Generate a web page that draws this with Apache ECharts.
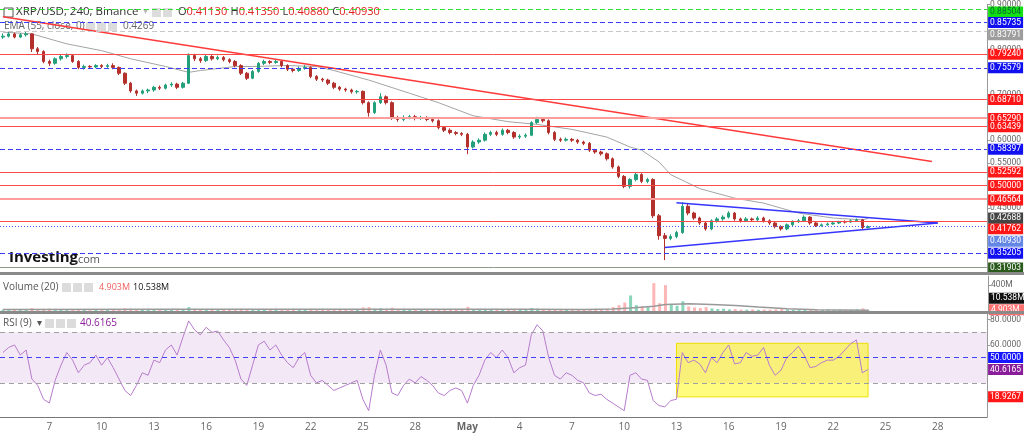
<!DOCTYPE html>
<html>
<head>
<meta charset="utf-8">
<script src="https://cdn.jsdelivr.net/npm/echarts@6/dist/echarts.min.js"></script>
<style>
  html, body { margin: 0; padding: 0; background: #fff; }
  #chart { width: 1024px; height: 433px; }
</style>
</head>
<body>
<div id="chart"></div>
<script>
// 8h slots from Apr 4 08:00, 170 slots fill the plot width
const slotStart = Date.UTC(2022, 3, 4, 8);
const slotCount = 170;
const categories = [];
for (let k = 0; k < slotCount; k++) {
  const d = new Date(slotStart + k * 8 * 3600e3);
  categories.push((d.getUTCMonth() + 1) + '/' + d.getUTCDate() + ' ' + d.getUTCHours() + 'h');
}

// x tick labels (every 3 days at 00:00)
const dayLabels = ['7', '10', '13', '16', '19', '22', '25', '28', 'May', '4', '7', '10', '13', '16', '19', '22', '25', '28'];
const dayLabelSlots = [8, 17, 26, 35, 44, 53, 62, 71, 80, 89, 98, 107, 116, 125, 134, 143, 152, 161];

// candles: [open, close, low, high]
const candles = [
  [0.828,0.830,0.824,0.836],[0.830,0.835,0.827,0.839],[0.835,0.828,0.825,0.838],[0.828,0.833,0.826,0.837],[0.833,0.835,0.829,0.840],
  [0.835,0.802,0.795,0.836],[0.802,0.796,0.790,0.806],[0.796,0.774,0.770,0.799],[0.774,0.770,0.764,0.778],[0.770,0.780,0.767,0.783],
  [0.780,0.785,0.776,0.789],[0.785,0.787,0.781,0.792],[0.787,0.774,0.771,0.790],[0.774,0.761,0.757,0.777],[0.761,0.763,0.756,0.767],
  [0.763,0.762,0.758,0.766],[0.762,0.765,0.759,0.768],[0.765,0.763,0.759,0.768],[0.763,0.765,0.760,0.769],[0.765,0.761,0.757,0.770],
  [0.761,0.748,0.744,0.763],[0.748,0.726,0.722,0.750],[0.726,0.709,0.705,0.729],[0.709,0.704,0.698,0.712],[0.704,0.709,0.701,0.712],
  [0.709,0.711,0.704,0.714],[0.711,0.717,0.707,0.720],[0.717,0.715,0.711,0.721],[0.715,0.722,0.712,0.725],[0.722,0.724,0.718,0.728],
  [0.724,0.717,0.713,0.727],[0.717,0.726,0.714,0.729],[0.726,0.787,0.724,0.792],[0.787,0.780,0.775,0.791],[0.780,0.776,0.771,0.784],
  [0.776,0.785,0.773,0.790],[0.785,0.780,0.776,0.788],[0.780,0.783,0.777,0.787],[0.783,0.778,0.774,0.786],[0.778,0.774,0.770,0.781],
  [0.774,0.765,0.761,0.777],[0.765,0.748,0.744,0.768],[0.748,0.737,0.733,0.751],[0.737,0.752,0.735,0.755],[0.752,0.770,0.749,0.773],
  [0.770,0.774,0.766,0.778],[0.774,0.772,0.768,0.777],[0.772,0.774,0.769,0.779],[0.774,0.765,0.761,0.777],[0.765,0.757,0.753,0.768],
  [0.757,0.754,0.750,0.760],[0.754,0.759,0.751,0.763],[0.759,0.761,0.756,0.766],[0.761,0.741,0.737,0.763],[0.741,0.735,0.731,0.744],
  [0.735,0.733,0.729,0.738],[0.733,0.726,0.722,0.736],[0.726,0.717,0.713,0.729],[0.717,0.713,0.709,0.720],[0.713,0.711,0.707,0.716],
  [0.711,0.707,0.703,0.714],[0.707,0.708,0.703,0.711],[0.708,0.683,0.679,0.710],[0.683,0.661,0.652,0.686],[0.661,0.683,0.658,0.686],
  [0.683,0.696,0.680,0.704],[0.696,0.683,0.679,0.699],[0.683,0.650,0.645,0.686],[0.650,0.646,0.641,0.654],[0.646,0.650,0.642,0.655],
  [0.650,0.652,0.646,0.656],[0.652,0.648,0.644,0.656],[0.648,0.650,0.645,0.654],[0.650,0.646,0.642,0.653],[0.646,0.643,0.639,0.649],
  [0.643,0.628,0.624,0.646],[0.628,0.622,0.618,0.631],[0.622,0.617,0.613,0.626],[0.617,0.615,0.611,0.620],[0.615,0.613,0.609,0.618],
  [0.613,0.585,0.569,0.616],[0.585,0.596,0.582,0.600],[0.596,0.600,0.592,0.604],[0.600,0.613,0.597,0.617],[0.613,0.617,0.609,0.621],
  [0.617,0.613,0.609,0.621],[0.613,0.622,0.610,0.626],[0.622,0.617,0.613,0.625],[0.617,0.607,0.603,0.620],[0.607,0.609,0.603,0.613],
  [0.609,0.611,0.605,0.615],[0.611,0.639,0.609,0.642],[0.639,0.646,0.636,0.652],[0.646,0.643,0.639,0.650],[0.643,0.617,0.613,0.646],
  [0.617,0.602,0.598,0.620],[0.602,0.600,0.596,0.606],[0.600,0.602,0.597,0.606],[0.602,0.600,0.596,0.605],[0.600,0.596,0.592,0.603],
  [0.596,0.593,0.589,0.599],[0.593,0.578,0.574,0.596],[0.578,0.574,0.570,0.581],[0.574,0.570,0.566,0.577],[0.570,0.559,0.555,0.573],
  [0.559,0.541,0.537,0.562],[0.541,0.520,0.516,0.544],[0.520,0.498,0.494,0.523],[0.498,0.513,0.493,0.516],[0.513,0.524,0.509,0.528],
  [0.524,0.509,0.505,0.527],[0.509,0.513,0.505,0.517],[0.513,0.433,0.428,0.516],[0.433,0.389,0.380,0.437],[0.389,0.383,0.335,0.395],
  [0.383,0.387,0.379,0.392],[0.387,0.396,0.383,0.400],[0.396,0.454,0.393,0.463],[0.454,0.439,0.434,0.460],[0.439,0.428,0.424,0.442],
  [0.428,0.417,0.413,0.431],[0.417,0.404,0.400,0.420],[0.404,0.422,0.401,0.425],[0.422,0.426,0.418,0.430],[0.426,0.430,0.422,0.434],
  [0.430,0.439,0.427,0.443],[0.439,0.426,0.422,0.441],[0.426,0.422,0.418,0.429],[0.422,0.426,0.419,0.430],[0.426,0.424,0.420,0.429],
  [0.424,0.428,0.421,0.432],[0.428,0.422,0.418,0.431],[0.422,0.417,0.413,0.425],[0.417,0.409,0.405,0.420],[0.409,0.404,0.400,0.412],
  [0.404,0.413,0.401,0.416],[0.413,0.420,0.410,0.423],[0.420,0.422,0.417,0.426],[0.422,0.430,0.419,0.434],[0.430,0.417,0.413,0.432],
  [0.417,0.411,0.408,0.420],[0.411,0.413,0.409,0.416],[0.413,0.415,0.411,0.418],[0.415,0.417,0.413,0.420],[0.417,0.420,0.415,0.422],
  [0.420,0.419,0.416,0.423],[0.419,0.422,0.417,0.425],[0.422,0.424,0.420,0.427],[0.424,0.407,0.403,0.426],[0.407,0.409,0.405,0.412]
];

// EMA(55) read at a few slots
const emaSlots  = [0, 5, 11, 17, 22, 28, 32, 34, 40, 43, 49, 54, 57, 63, 70, 75, 81, 87, 92, 98, 104, 108, 110, 113, 115, 120, 126, 131, 137, 143, 148, 149];
const emaValues = [0.839, 0.835, 0.813, 0.798, 0.780, 0.763, 0.750, 0.754, 0.763, 0.763, 0.765, 0.763, 0.754, 0.733, 0.704, 0.683, 0.654, 0.641, 0.635, 0.624, 0.607, 0.585, 0.578, 0.552, 0.524, 0.493, 0.472, 0.461, 0.439, 0.428, 0.424, 0.4269];

// trend lines: [slot, price]
const downTrend = [[0, 0.873], [160, 0.553]];
const triUpper = [[116, 0.462], [161, 0.417]];
const triLower = [[114, 0.363], [161, 0.417]];

// horizontal levels on the price panel
const levelValues = [0.88504, 0.85735, 0.83791, 0.79240, 0.75579, 0.68710, 0.65290, 0.63439, 0.58397, 0.52592, 0.50000, 0.46564, 0.41762, 0.40930, 0.35205, 0.31903];
const levelKinds  = ['green', 'blue', 'gray', 'red', 'blue', 'red', 'pink', 'red', 'blue', 'red', 'red', 'pink', 'red', 'last', 'blue', 'olive'];
const emaLast = 0.42688;

// volume (millions)
const volumes = [
  20,18,22,15,20,45,30,25,35,20, 18,15,20,22,15,12,18,15,20,25, 30,40,35,28,20,18,15,22,18,20,
  15,25,60,30,20,18,15,20,18,22, 28,35,30,25,20,18,15,18,20,22, 15,18,20,35,28,20,22,25,18,20,
  15,18,55,60,35,40,30,50,22,18, 15,18,15,20,18,20,25,22,18,20, 65,30,25,22,20,18,22,18,20,18,
  20,45,35,25,30,22,18,20,18,22, 20,30,25,28,35,60,90,130,240,90, 70,60,430,120,400,110,80,150,70,55,
  45,60,40,30,35,25,30,22,20,25, 18,22,20,25,30,25,20,18,22,20, 18,15,18,15,20,15,18,25,40,5
];
const volMaSlots  = [0, 30, 60, 90, 100, 105, 108, 112, 114, 118, 122, 126, 130, 135, 140, 149];
const volMaValues = [25, 26, 27, 26, 25, 30, 45, 75, 100, 110, 100, 85, 60, 35, 20, 10.538];
const volLast = 4.903, volMaLast = 10.538;

// RSI(9)
const rsi = [
  54,58,60,52,56,33,28,17,14,32, 44,54,48,38,44,46,52,44,50,42, 33,24,20,28,38,36,48,46,56,60,
  52,66,79,72,68,74,70,71,64,58, 48,33,28,44,60,63,56,60,52,46, 42,50,54,36,30,32,28,24,26,28,
  30,32,17,8,36,56,44,22,20,28, 33,30,35,32,28,22,20,24,26,24, 14,28,36,48,54,50,56,50,38,42,
  44,68,76,71,50,36,33,38,36,32, 30,22,20,21,17,14,11,8,36,38, 33,32,16,12,11,16,17,54,46,48,
  45,38,50,46,54,60,45,46,54,51, 52,58,44,36,40,50,54,59,52,42, 43,46,48,48,51,56,61,64,38,40.6165
];
const rsiBox = [[116, 61.3], [149, 18.9267]];

const lineColors = { green: '#2fe02f', blue: '#3d3dff', gray: '#c8c8c8', red: '#ff4a4a', pink: '#ff9c9c', last: '#4a5cff', olive: '#8f9c86' };
const labelBg = { green: '#12e012', blue: '#1010f0', gray: '#9d9d9d', red: '#ff1616', pink: '#ff1616', last: '#6487e6', olive: '#2a5a1c' };
const labelShift = { 0.88504: 3, 0.83791: 3, 0.65290: 1, 0.41762: 7, 0.40930: 15, 0.46564: 1, 0.31903: 1 };
const noLine = { color: 'rgba(0,0,0,0)', width: 0 };

function sideLabel(text, bg, fg, dy) {
  return {
    show: true, position: 'end', distance: 1, formatter: text,
    backgroundColor: bg, color: fg, fontSize: 8.5, fontFamily: 'Roboto',
    padding: [1, 1, 1, 2], width: 32, offset: [0, dy || 0]
  };
}

const levelLines = levelValues.map((v, i) => {
  const kind = levelKinds[i];
  const dashed = kind === 'blue' || kind === 'green' || kind === 'gray';
  return {
    yAxis: v,
    lineStyle: {
      color: lineColors[kind],
      width: kind === 'pink' ? 2 : 1,
      type: kind === 'last' ? [1, 2] : (dashed ? [5, 3] : 'solid')
    },
    label: sideLabel(v.toFixed(5), labelBg[kind], kind === 'green' ? '#063' : '#fff', labelShift[v])
  };
});
levelLines.push({ yAxis: emaLast, lineStyle: noLine, label: sideLabel(emaLast.toFixed(5), '#444', '#fff', 1) });

const chart = echarts.init(document.getElementById('chart'));
const hiddenX = { type: 'category', data: categories, boundaryGap: true, show: false };
const grids = [
  { left: 0, right: 36, top: 0, height: 272 },
  { left: 0, right: 36, top: 276, height: 35 },
  { left: 0, right: 36, top: 314, height: 103 }
];
const rightAxisBase = {
  position: 'right', splitLine: { show: false },
  axisLine: { show: true, lineStyle: { color: '#999' } },
  axisTick: { show: true, length: 3, lineStyle: { color: '#999' } },
  axisLabel: { color: '#666', fontSize: 8.5, fontFamily: 'Roboto', margin: 3 }
};
const boxIcon = (x, y) => ({ type: 'rect', shape: { x: x, y: y, width: 9, height: 9 }, style: { fill: '#dcdcdc' } });
const uiFont = 'Open Sans';

chart.setOption({
  animation: false,
  grid: grids,
  xAxis: [
    Object.assign({ gridIndex: 0 }, hiddenX),
    Object.assign({ gridIndex: 1 }, hiddenX),
    {
      gridIndex: 2, type: 'category', data: categories, boundaryGap: true,
      axisLine: { lineStyle: { color: '#777' } },
      axisTick: { interval: (i) => dayLabelSlots.includes(i), alignWithLabel: true, length: 4, lineStyle: { color: '#777' } },
      axisLabel: {
        interval: (i) => dayLabelSlots.includes(i),
        formatter: (v, i) => {
          const t = dayLabels[dayLabelSlots.indexOf(i)];
          return t === 'May' ? '{b|May}' : t;
        },
        color: '#666', fontSize: 10, fontFamily: uiFont, margin: 5,
        rich: { b: { fontWeight: 'bold', color: '#666', fontSize: 10, fontFamily: uiFont } }
      }
    }
  ],
  yAxis: [
    Object.assign({}, rightAxisBase, {
      gridIndex: 0, min: 0.3087, max: 0.90,
      axisLabel: Object.assign({}, rightAxisBase.axisLabel, { customValues: [0.45, 0.55, 0.60, 0.70, 0.80, 0.90], formatter: (v) => v.toFixed(5) }),
      axisTick: Object.assign({}, rightAxisBase.axisTick, { customValues: [0.45, 0.55, 0.60, 0.70, 0.80, 0.90] })
    }),
    Object.assign({}, rightAxisBase, {
      gridIndex: 1, min: 0, max: 540,
      axisLabel: Object.assign({}, rightAxisBase.axisLabel, { customValues: [400], formatter: '{value}M' }),
      axisTick: Object.assign({}, rightAxisBase.axisTick, { customValues: [400] })
    }),
    Object.assign({}, rightAxisBase, {
      gridIndex: 2, min: 3, max: 84.5,
      axisLabel: Object.assign({}, rightAxisBase.axisLabel, { customValues: [60, 80], formatter: (v) => v.toFixed(4) }),
      axisTick: Object.assign({}, rightAxisBase.axisTick, { customValues: [60, 80] })
    })
  ],
  series: [
    {
      type: 'candlestick', xAxisIndex: 0, yAxisIndex: 0, data: candles, barWidth: 3,
      itemStyle: { color: '#23a07b', color0: '#b3302c', borderColor: '#23a07b', borderColor0: '#b3302c', borderWidth: 1 },
      markLine: { silent: true, symbol: ['none', 'none'], data: levelLines }
    },
    {
      type: 'line', xAxisIndex: 0, yAxisIndex: 0, showSymbol: false, connectNulls: true,
      data: emaSlots.map((s, i) => [s, emaValues[i]]),
      lineStyle: { color: '#a4a4a4', width: 1 }, z: 1
    },
    { type: 'line', xAxisIndex: 0, yAxisIndex: 0, showSymbol: false, data: downTrend, lineStyle: { color: '#ff3a3a', width: 1.5 } },
    { type: 'line', xAxisIndex: 0, yAxisIndex: 0, showSymbol: false, data: triUpper, lineStyle: { color: '#3535ff', width: 1.5 } },
    { type: 'line', xAxisIndex: 0, yAxisIndex: 0, showSymbol: false, data: triLower, lineStyle: { color: '#3535ff', width: 1.5 } },
    {
      type: 'bar', xAxisIndex: 1, yAxisIndex: 1, barWidth: 3,
      data: volumes.map((v, i) => ({
        value: v,
        itemStyle: { color: candles[i][1] >= candles[i][0] ? 'rgba(40,180,130,0.55)' : 'rgba(255,110,110,0.5)' }
      })),
      markLine: {
        silent: true, symbol: ['none', 'none'],
        data: [
          { yAxis: volMaLast, lineStyle: noLine, label: sideLabel(volMaLast + 'M', '#111', '#fff', -12) },
          { yAxis: volLast, lineStyle: noLine, label: sideLabel(volLast + 'M', '#ff7070', '#fff', -1) }
        ]
      }
    },
    {
      type: 'line', xAxisIndex: 1, yAxisIndex: 1, showSymbol: false,
      data: volMaSlots.map((s, i) => [s, volMaValues[i]]),
      lineStyle: { color: '#999', width: 1.5 }
    },
    {
      type: 'line', xAxisIndex: 2, yAxisIndex: 2, showSymbol: false, data: rsi,
      lineStyle: { color: '#b77ccc', width: 1 },
      markArea: {
        silent: true,
        data: [
          [{ yAxis: 30, itemStyle: { color: 'rgba(200,150,215,0.22)' } }, { yAxis: 70 }],
          [{ xAxis: rsiBox[0][0], yAxis: rsiBox[0][1], itemStyle: { color: 'rgba(255,250,0,0.5)', borderColor: '#ece000', borderWidth: 1 } },
           { xAxis: rsiBox[1][0], yAxis: rsiBox[1][1] }]
        ]
      },
      markLine: {
        silent: true, symbol: ['none', 'none'],
        data: [
          { yAxis: 70, lineStyle: { color: '#a0a0a0', type: [5, 4], width: 1 }, label: { show: false } },
          { yAxis: 30, lineStyle: { color: '#a0a0a0', type: [5, 4], width: 1 }, label: { show: false } },
          { yAxis: 50, lineStyle: { color: '#4040ff', type: [5, 4], width: 1 }, label: sideLabel('50.0000', '#1515ff', '#fff', 0) },
          { yAxis: 40.6165, lineStyle: noLine, label: sideLabel('40.6165', '#8a1d9a', '#fff', 0) },
          { yAxis: 18.9267, lineStyle: noLine, label: sideLabel('18.9267', '#ff1616', '#fff', 0) }
        ]
      }
    }
  ],
  graphic: [
    { type: 'rect', shape: { x: 0, y: 272, width: 1024, height: 3 }, style: { fill: '#8a8a8a' }, z: 100 },
    { type: 'rect', shape: { x: 0, y: 311, width: 1024, height: 3 }, style: { fill: '#8a8a8a' }, z: 100 },
    { type: 'rect', shape: { x: 4, y: 8, width: 9, height: 9 }, style: { fill: 'none', stroke: '#555', lineWidth: 1 } },
    { type: 'text', x: 16, y: 6, style: { text: 'XRP/USD, 240, Binance', fill: '#333', font: '11.5px "' + uiFont + '"' } },
    { type: 'text', x: 143, y: 6, style: { text: '▾', fill: '#bbb', font: '10px "' + uiFont + '"' } },
    boxIcon(152, 8), boxIcon(163, 8),
    {
      type: 'text', x: 178, y: 6,
      style: {
        text: '{k|O}{v|0.41130} {k|H}{v|0.41350} {k|L}{v|0.40880} {k|C}{v|0.40930}',
        rich: { k: { fill: '#333', font: '11px "' + uiFont + '"' }, v: { fill: '#e02020', font: '11px "' + uiFont + '"' } }
      }
    },
    { type: 'text', x: 4, y: 21, style: { text: 'EMA (55, close, 0)  ▾', fill: '#666', font: '10px "' + uiFont + '"' } },
    boxIcon(86, 22), boxIcon(97, 22), boxIcon(108, 22),
    { type: 'text', x: 123, y: 21, style: { text: '0.4269', fill: '#666', font: '10px "' + uiFont + '"' } },
    { type: 'text', x: 9, y: 250, style: { text: 'Investing', fill: '#111', font: 'bold 15px "' + uiFont + '"' } },
    { type: 'text', x: 75, y: 254, style: { text: '.com', fill: '#555', font: '11px "' + uiFont + '"' } },
    { type: 'text', x: 3, y: 282, style: { text: 'Volume (20)  ▾', fill: '#555', font: '10px "' + uiFont + '"' } },
    boxIcon(62, 283), boxIcon(73, 283), boxIcon(84, 283),
    { type: 'text', x: 99, y: 283, style: { text: '4.903M', fill: '#f06060', font: '9px "' + uiFont + '"' } },
    { type: 'text', x: 133, y: 283, style: { text: '10.538M', fill: '#111', font: '9px "' + uiFont + '"' } },
    { type: 'text', x: 3, y: 318, style: { text: 'RSI (9)  ▾', fill: '#555', font: '10px "' + uiFont + '"' } },
    boxIcon(45, 319), boxIcon(56, 319), boxIcon(67, 319),
    { type: 'text', x: 80, y: 318, style: { text: '40.6165', fill: '#8a1d9a', font: '10px "' + uiFont + '"' } }
  ]
});
window.addEventListener('resize', () => chart.resize());
</script>
</body>
</html>
